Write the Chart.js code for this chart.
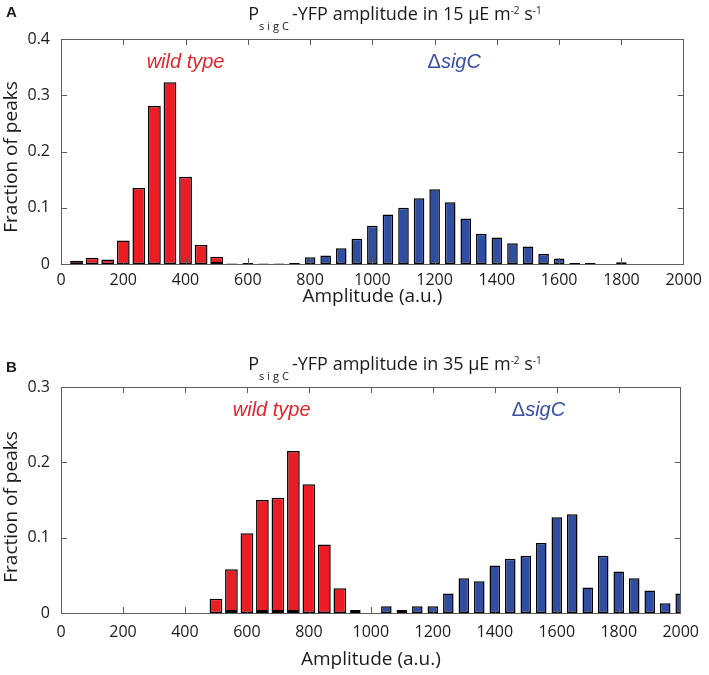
<!DOCTYPE html>
<html><head><meta charset="utf-8">
<script src="https://cdn.jsdelivr.net/npm/chart.js@4.4.1/dist/chart.umd.min.js"></script>
<style>
html,body{margin:0;padding:0;background:#fff;}
body{width:709px;height:675px;position:relative;overflow:hidden;font-family:"Open Sans",sans-serif;color:#1a1a1a;}
canvas{position:absolute;left:0;}
.title{position:absolute;left:395px;transform:translateX(-50%);font-size:18px;line-height:20px;white-space:nowrap;}
.title sub{font-size:11px;letter-spacing:3px;vertical-align:-10px;line-height:0;}
.title sup{font-size:10px;vertical-align:6px;line-height:0;}
.plabel{position:absolute;left:6px;font:bold 15px "Liberation Sans",Arial,sans-serif;line-height:15px;}
</style></head><body>
<canvas id="ca" width="709" height="320" style="top:0;width:709px;height:320px"></canvas>
<canvas id="cb" width="709" height="355" style="top:320px;width:709px;height:355px"></canvas>
<div class="plabel" style="top:4px">A</div>
<div class="title" style="top:3px">P<sub>sigC</sub>-YFP amplitude in 15 μE m<sup>-2</sup> s<sup>-1</sup></div>
<div class="plabel" style="top:359px">B</div>
<div class="title" style="top:353px">P<sub>sigC</sub>-YFP amplitude in 35 μE m<sup>-2</sup> s<sup>-1</sup></div>
<script>
// ---- data ----
const bins = [50,100,150,200,250,300,350,400,450,500,550,600,650,700,750,800,850,900,950,1000,
              1050,1100,1150,1200,1250,1300,1350,1400,1450,1500,1550,1600,1650,1700,1750,1800,1850,1900,1950,2000];
const xTicks = [0,200,400,600,800,1000,1200,1400,1600,1800,2000];
const yTicks15 = [0,0.1,0.2,0.3,0.4];
const yTicks35 = [0,0.1,0.2,0.3];

const wildType15 = [0.006,0.011,0.008,0.042,0.135,0.281,0.323,0.155,0.034,0.013,
                    0,0,0,0,0,0,0,0,0,0,
                    0,0,0,0,0,0,0,0,0,0,
                    0,0,0,0,0,0,0,0,0,0];
const sigC15 = [0,0,0,0,0,0,0,0,0,0.004,
                0.001,0.002,0.001,0.001,0.002,0.012,0.015,0.028,0.045,0.068,
                0.088,0.100,0.117,0.133,0.110,0.081,0.054,0.047,0.037,0.031,
                0.018,0.010,0.002,0.002,0,0.003,0,0,0,0];
const wildType35 = [0,0,0,0,0,0,0,0,0,0.019,
                    0.058,0.106,0.150,0.153,0.215,0.171,0.091,0.033,0,0,
                    0,0,0,0,0,0,0,0,0,0,
                    0,0,0,0,0,0,0,0,0,0];
const sigC35 = [0,0,0,0,0,0,0,0,0,0,
                0.004,0,0.004,0.004,0.004,0,0,0,0.004,0,
                0.009,0.004,0.009,0.009,0.026,0.046,0.042,0.063,0.072,0.076,
                0.093,0.127,0.131,0.034,0.076,0.055,0.046,0.030,0.013,0.026];

const seriesNames = ['wild type', 'ΔsigC'];

// ---- styles ----
const RED = '#ec1c24', BLUE = '#2f4ea1';
const RED_TXT = '#e6232b', BLUE_TXT = '#3a4fa4';
const AXIS = '#5c5c5c';
const FONT = '"Open Sans", "Liberation Sans", sans-serif';
const NOTE_FONT = '"Liberation Sans", Arial, sans-serif';

const framePlugin = {
  id: 'frame',
  afterDatasetsDraw(chart, args, o) {
    const {ctx, chartArea: a, scales: {x, y}} = chart;
    ctx.save();
    ctx.strokeStyle = AXIS; ctx.lineWidth = 1;
    ctx.beginPath();
    o.xTicks.forEach(v => {
      if (v <= x.min || v >= x.max) return;
      const px = Math.round(x.getPixelForValue(v)) + 0.5;
      ctx.moveTo(px, a.bottom); ctx.lineTo(px, a.bottom - 6);
      ctx.moveTo(px, a.top); ctx.lineTo(px, a.top + 6);
    });
    o.yTicks.forEach(v => {
      if (v <= y.min || v >= y.max) return;
      const py = Math.round(y.getPixelForValue(v)) + 0.5;
      ctx.moveTo(a.left, py); ctx.lineTo(a.left + 6, py);
      ctx.moveTo(a.right, py); ctx.lineTo(a.right - 6, py);
    });
    ctx.stroke();
    ctx.strokeRect(Math.round(a.left) + 0.5, Math.round(a.top) + 0.5,
                   Math.round(a.right - a.left) - 1, Math.round(a.bottom - a.top));
    // series labels
    ctx.textBaseline = 'alphabetic';
    o.notes.forEach(n => {
      const cx = x.getPixelForValue(n.x), by = y.getPixelForValue(n.y);
      const fItal = 'italic 20px ' + NOTE_FONT, fNorm = '20px ' + NOTE_FONT;
      ctx.fillStyle = n.color;
      if (n.text.startsWith('Δ')) {
        ctx.font = fNorm; const w1 = ctx.measureText('Δ').width;
        ctx.font = fItal; const rest = n.text.slice(1); const w2 = ctx.measureText(rest).width;
        const sx = cx - (w1 + w2) / 2;
        ctx.textAlign = 'left';
        ctx.font = fNorm; ctx.fillText('Δ', sx, by);
        ctx.font = fItal; ctx.fillText(rest, sx + w1, by);
      } else {
        ctx.font = fItal; ctx.textAlign = 'center'; ctx.fillText(n.text, cx, by);
      }
    });
    // y-axis title
    ctx.save();
    ctx.translate(17, o.yTitleY);
    ctx.rotate(-Math.PI / 2);
    ctx.font = '19px ' + FONT; ctx.fillStyle = '#1a1a1a'; ctx.textAlign = 'center';
    ctx.fillText('Fraction of peaks', 0, 0);
    ctx.restore();
    ctx.restore();
  }
};

function makePanel(id, red, blue, yTicks, p) {
  const toPts = arr => bins.map((b, i) => ({x: b, y: arr[i]}));
  return new Chart(document.getElementById(id), {
    type: 'bar',
    data: {
      datasets: [
        {label: seriesNames[1], data: toPts(blue), backgroundColor: BLUE, borderColor: '#000',
         borderWidth: 1.5, barPercentage: 0.68, categoryPercentage: 1, grouped: false,
         borderSkipped: false, inflateAmount: 0, clip: 0},
        {label: seriesNames[0], data: toPts(red), backgroundColor: RED, borderColor: '#000',
         borderWidth: 1.5, barPercentage: 0.82, categoryPercentage: 1, grouped: false,
         borderSkipped: false, inflateAmount: 0, clip: 0}
      ]
    },
    options: {
      responsive: false, animation: false, devicePixelRatio: 1, events: [],
      layout: {padding: {left: 0, right: 20, top: p.top, bottom: 0}},
      plugins: {
        legend: {display: false}, tooltip: {enabled: false},
        frame: {xTicks: xTicks, yTicks: yTicks, notes: p.notes, yTitleY: p.yTitleY}
      },
      scales: {
        x: {
          type: 'linear', offset: false, min: 0, max: 2000,
          afterBuildTicks: s => { s.ticks = xTicks.map(v => ({value: v})); },
          afterFit: s => { s.height = p.xHeight; },
          grid: {display: false, drawTicks: false},
          border: {display: false},
          ticks: {padding: p.xPad, color: '#1a1a1a', font: {family: FONT, size: 16},
                  maxRotation: 0, autoSkip: false, callback: v => String(v)},
          title: {display: true, text: 'Amplitude (a.u.)', color: '#1a1a1a',
                  font: {family: FONT, size: 19}, padding: {top: 0, bottom: p.titlePad}}
        },
        y: {
          min: 0, max: yTicks[yTicks.length - 1],
          afterBuildTicks: s => { s.ticks = yTicks.map(v => ({value: v})); },
          afterFit: s => { s.width = 61; },
          grid: {display: false, drawTicks: false},
          border: {display: false},
          ticks: {padding: 11, color: '#1a1a1a', font: {family: FONT, size: 16},
                  autoSkip: false, callback: v => String(v)}
        }
      }
    },
    plugins: [framePlugin]
  });
}

makePanel('ca', wildType15, sigC15, yTicks15, {
  top: 39, xHeight: 56, xPad: 7, titlePad: 12, yTitleY: 157,
  notes: [{text: seriesNames[0], x: 400, y: 0.348, color: RED_TXT},
          {text: seriesNames[1], x: 1263, y: 0.348, color: BLUE_TXT}]
});
makePanel('cb', wildType35, sigC35, yTicks35, {
  top: 67, xHeight: 62, xPad: 10, titlePad: 4, yTitleY: 187,
  notes: [{text: seriesNames[0], x: 680, y: 0.262, color: RED_TXT},
          {text: seriesNames[1], x: 1541, y: 0.262, color: BLUE_TXT}]
});
</script>
</body></html>
